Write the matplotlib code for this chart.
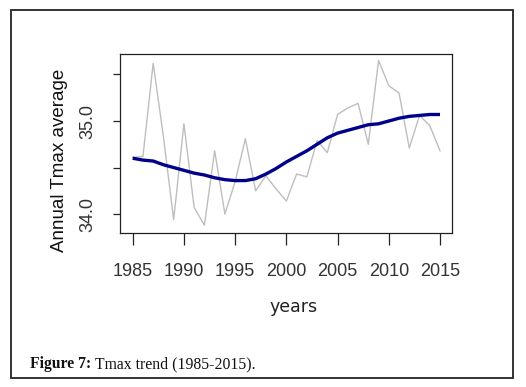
import matplotlib
matplotlib.use("Agg")
import matplotlib.pyplot as plt
from matplotlib.patches import Rectangle

# annual Tmax average (grey) and smoothed trend (blue)
years = list(range(1985, 2016))
tmax = [34.61, 34.62, 35.62, 34.83, 33.94, 34.97, 34.07, 33.88, 34.68, 34.00,
        34.35, 34.81, 34.25, 34.41, 34.27, 34.14, 34.43, 34.40, 34.79, 34.66,
        35.07, 35.14, 35.19, 34.75, 35.65, 35.38, 35.30, 34.71, 35.06, 34.95,
        34.68]
trend = [34.60, 34.58, 34.57, 34.53, 34.50, 34.47, 34.44, 34.42, 34.39, 34.37,
         34.36, 34.36, 34.38, 34.43, 34.49, 34.56, 34.62, 34.68, 34.75, 34.82,
         34.87, 34.90, 34.93, 34.96, 34.97, 35.00, 35.03, 35.05, 35.06, 35.07,
         35.07]
xticks = [1985, 1990, 1995, 2000, 2005, 2010, 2015]
yticks = [34.0, 34.5, 35.0, 35.5]
ylabels = ["34.0", "", "35.0", ""]

W, H = 526, 387
fig = plt.figure(figsize=(W / 100, H / 100), dpi=100)
fig.patch.set_facecolor("white")

ax = fig.add_axes([120 / W, 1 - 232.7 / H, 331.7 / W, 178.7 / H])
ax.plot(years, tmax, color="#bebebe", lw=1.0)
ax.plot(years, trend, color="#00008b", lw=2.4, solid_capstyle="butt")
ax.set_xlim(1983.76, 2016.14)
ax.set_ylim(33.80, 35.72)

tick_font = ["Liberation Sans", "DejaVu Sans"]
ax.set_xticks(xticks)
ax.set_xticklabels([str(y) for y in xticks], family=tick_font, fontsize=13,
                   color="#333333")
ax.set_yticks(yticks)
ax.set_yticklabels(ylabels, family=tick_font, fontsize=13, color="#333333",
                   rotation=90, va="center")
ax.tick_params(axis="x", length=8.5, width=0.9, pad=13.5, color="#222222")
ax.tick_params(axis="y", length=5.2, width=0.9, pad=11.5, color="#222222")
for s in ax.spines.values():
    s.set_linewidth(0.9)
    s.set_color("#222222")

fig.text(59 / W, 1 - 160 / H, "Annual Tmax average", rotation=90,
         ha="center", va="center", fontsize=13.5, color="#111111",
         family=["Liberation Sans", "DejaVu Sans"])
fig.text(294 / W, 1 - 307 / H, "years", ha="center", va="center",
         fontsize=12.5, color="#222222", family="DejaVu Sans")

# figure frame and caption
fig.patches.append(Rectangle((10.7 / W, 9 / H), 502.6 / W, (378 - 9.7) / H,
                             transform=fig.transFigure, fill=False,
                             edgecolor="#222222", lw=1.3))
cap_font = ["Liberation Serif", "DejaVu Serif"]
t1 = fig.text(30 / W, 19 / H, "Figure 7:", fontsize=11.3, weight="bold",
              family=cap_font, va="baseline", color="#111111")
fig.canvas.draw()
bb = t1.get_window_extent()
fig.text((bb.x1 + 4) / W, 19 / H, "Tmax trend (1985-2015).", fontsize=11.3,
         family=cap_font, va="baseline", color="#111111")

fig.savefig("out.png", dpi=100)
